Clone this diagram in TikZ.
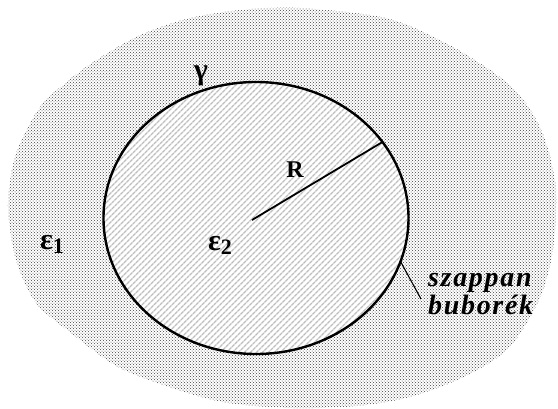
\documentclass[tikz,border=0pt]{standalone}
\usepackage{fontspec}
\setmainfont{Liberation Serif}
\newfontfamily\notefont[LetterSpace=6]{Liberation Serif}
\usetikzlibrary{shapes.geometric,patterns,patterns.meta}
\newcommand{\lowidx}[1]{\raisebox{-4pt}{\fontsize{22}{22}\selectfont #1}}
\tikzset{
  medium/.style={pattern=crosshatch dots, pattern color=black!75},
  bubble/.style={ellipse, draw, line width=2.4pt, inner sep=0pt,
                 minimum width=305pt, minimum height=272pt,
                 preaction={fill=white},
                 pattern={Lines[angle=45, distance=4pt, line width=1.5pt]},
                 pattern color=gray!50},
  lbl/.style={inner sep=0pt, font=\bfseries\fontsize{24}{26}\selectfont},
  eps/.style={inner sep=0pt, font=\bfseries\fontsize{30}{32}\selectfont},
  note/.style={inner sep=0pt, align=left,
               font=\notefont\bfseries\itshape\fontsize{28}{28}\selectfont},
  wire/.style={line width=1.1pt},
}
\begin{document}
\begin{tikzpicture}[x=1pt, y=-1pt]
  \useasboundingbox (0,0) rectangle (558,408);
  \clip (0,0) rectangle (558,408);
  % outer medium
  \fill[medium] plot[smooth cycle, tension=0.5] coordinates {
    (300,8) (386,18) (446,43) (500,77) (528,106) (546,142) (556,190)
    (553,250) (540,298) (509,348) (464,377) (410,397) (357,406)
    (292,408) (228,403) (178,390) (118,367) (71,333) (36,303)
    (16,260) (8,207) (14,160) (28,127) (46,100) (86,67) (136,37)
    (186,19) (240,10)};
  % soap bubble
  \node[bubble] (bub) at (256,218) {};
  \coordinate (ctr) at (252,220);
  \draw[line width=1.8pt] (ctr) -- (bub.31);
  \node[lbl] (rad) at (295,170) {R};
  \node[lbl, font=\bfseries\fontsize{30}{32}\selectfont] (gam) at (201,76) {γ};
  \node[eps] (eps1) at (52,244) {ε\lowidx{1}};
  \node[eps] (eps2) at (220,245) {ε\lowidx{2}};
  \node[note, anchor=base west] (soap) at (428,314) {szappan\\buborék};
  \coordinate (lead) at (421,299);
  \draw[wire] (bub.-17) -- (lead);
\end{tikzpicture}
\end{document}
